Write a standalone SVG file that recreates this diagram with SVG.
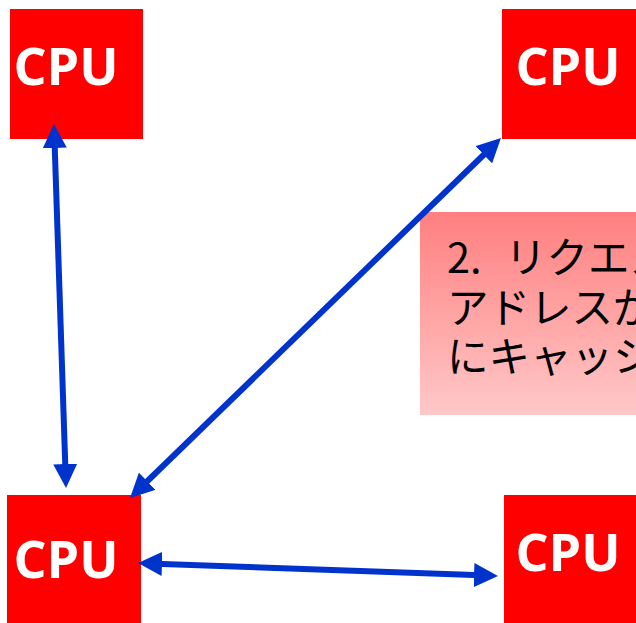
<svg xmlns="http://www.w3.org/2000/svg" width="636" height="623" viewBox="0 0 636 623">
<defs>
<linearGradient id="g" x1="0" y1="0" x2="0" y2="1">
<stop offset="0" stop-color="#ff7f7f"/>
<stop offset="1" stop-color="#ffc8c8"/>
</linearGradient>
<marker id="ah" viewBox="0 0 24 24" refX="14" refY="12" markerWidth="24" markerHeight="24" orient="auto-start-reverse" markerUnits="userSpaceOnUse">
<path d="M0,0 L24,12 L0,24 z" fill="#0033cc"/>
</marker>
<style>
.cpu rect{fill:#ff0000}
.cpu text{fill:#ffffff;font-family:"Open Sans","DejaVu Sans",sans-serif;font-weight:bold;font-size:52px;text-anchor:middle}
.conn line{stroke:#0033cc;stroke-width:6;marker-start:url(#ah);marker-end:url(#ah)}
.note text{font-family:"Noto Sans CJK JP",sans-serif;font-size:41.5px;fill:#000}
</style>
</defs>
<g id="cpu-tl" class="cpu"><rect x="10" y="9" width="133" height="130"/><text x="66" y="85">CPU</text></g>
<g id="cpu-tr" class="cpu"><rect x="502" y="9" width="140" height="130"/><text x="568" y="85">CPU</text></g>
<g id="cpu-bl" class="cpu"><rect x="7" y="495" width="134" height="135"/><text x="66" y="578">CPU</text></g>
<g id="cpu-br" class="cpu"><rect x="504" y="495" width="140" height="135"/><text x="568" y="571">CPU</text></g>
<g id="note" class="note">
<rect x="420" y="212" width="230" height="203" fill="url(#g)"/>
<text x="447" y="273">2.<tspan x="505">リクエス</tspan></text>
<text x="447" y="323">アドレスが</text>
<text x="447" y="372">にキャッシ</text>
</g>
<g id="connectors" class="conn">
<line x1="54.3" y1="134" x2="65.7" y2="478"/>
<line x1="137.2" y1="491" x2="493.8" y2="145"/>
<line x1="148" y1="563.4" x2="488" y2="575.6"/>
</g>
</svg>
